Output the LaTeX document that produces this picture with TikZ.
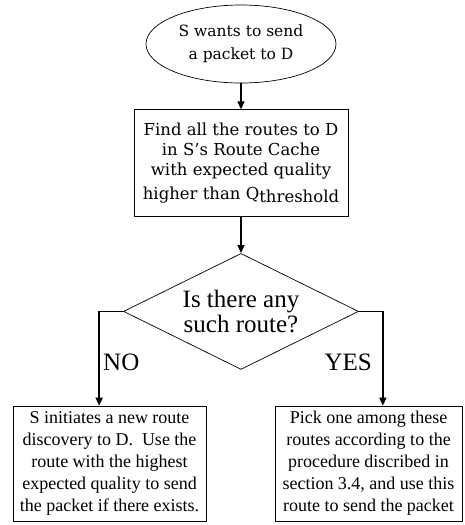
\documentclass[tikz,border=0pt]{standalone}
\usepackage{fontspec}
\setmainfont{Liberation Serif}
\newfontfamily\schfont{DejaVu Serif}
\usetikzlibrary{arrows.meta,shapes.geometric,positioning}
\tikzset{
  start_ell/.style={draw,line width=0.7pt,ellipse,minimum width=190pt,minimum height=78pt,
    inner sep=0pt,align=center,font=\schfont\fontsize{15.5}{23}\selectfont},
  find_box/.style={draw,line width=0.7pt,rectangle,minimum width=214pt,minimum height=107pt,
    inner sep=0pt,align=center,font=\schfont\fontsize{16.5}{20}\selectfont},
  check_dia/.style={draw,line width=0.7pt,diamond,aspect=2,minimum width=235pt,minimum height=116pt,
    inner sep=0pt,align=center,font=\fontsize{25}{25}\selectfont},
  act_box/.style={draw,line width=0.7pt,rectangle,minimum height=115pt,
    inner sep=0pt,align=center,font=\fontsize{18}{22}\selectfont},
  lbl/.style={inner sep=0pt,font=\fontsize{25}{25}\selectfont},
  arr/.style={-{Triangle[length=8pt,width=7pt]},line width=1.6pt},
}
\begin{document}
\begin{tikzpicture}[x=1pt,y=-1pt]
  \useasboundingbox (0,0) rectangle (464,525);
  \node[start_ell] (start) at (241,44) {S wants to send\\a packet to D};
  \node[find_box,below=26pt of start] (find) {Find all the routes to D\\in S’s Route Cache\\with expected quality\\[4pt]higher than Q\raisebox{-3pt}{threshold}};
  \node[check_dia,below=36pt of find] (check) {Is there any\\such route?};

  \node[act_box,minimum width=193pt] (nobox) at (109.5,463.5) {S initiates a new route\\discovery to D.\ \ Use the\\route with the highest\\expected quality to send\\the packet if there exists.};
  \node[act_box,minimum width=187pt] (yesbox) at (368.5,463.5) {Pick one among these\\routes according to the\\procedure discribed in\\section 3.4, and use this\\route to send the packet};

  \coordinate[left=24pt of check.west] (nocorner);
  \coordinate[right=24pt of check.east] (yescorner);

  \node[lbl,anchor=base west] (nolbl) at (103,370) {NO};
  \node[lbl,anchor=base east] (yeslbl) at (372,370) {YES};

  \draw[arr](start)--(find);
  \draw[arr](find)--(check);
  \draw[arr](check.west)--(nocorner)--(nocorner |- nobox.north);
  \draw[arr](check.east)--(yescorner)--(yescorner |- yesbox.north);
\end{tikzpicture}
\end{document}
